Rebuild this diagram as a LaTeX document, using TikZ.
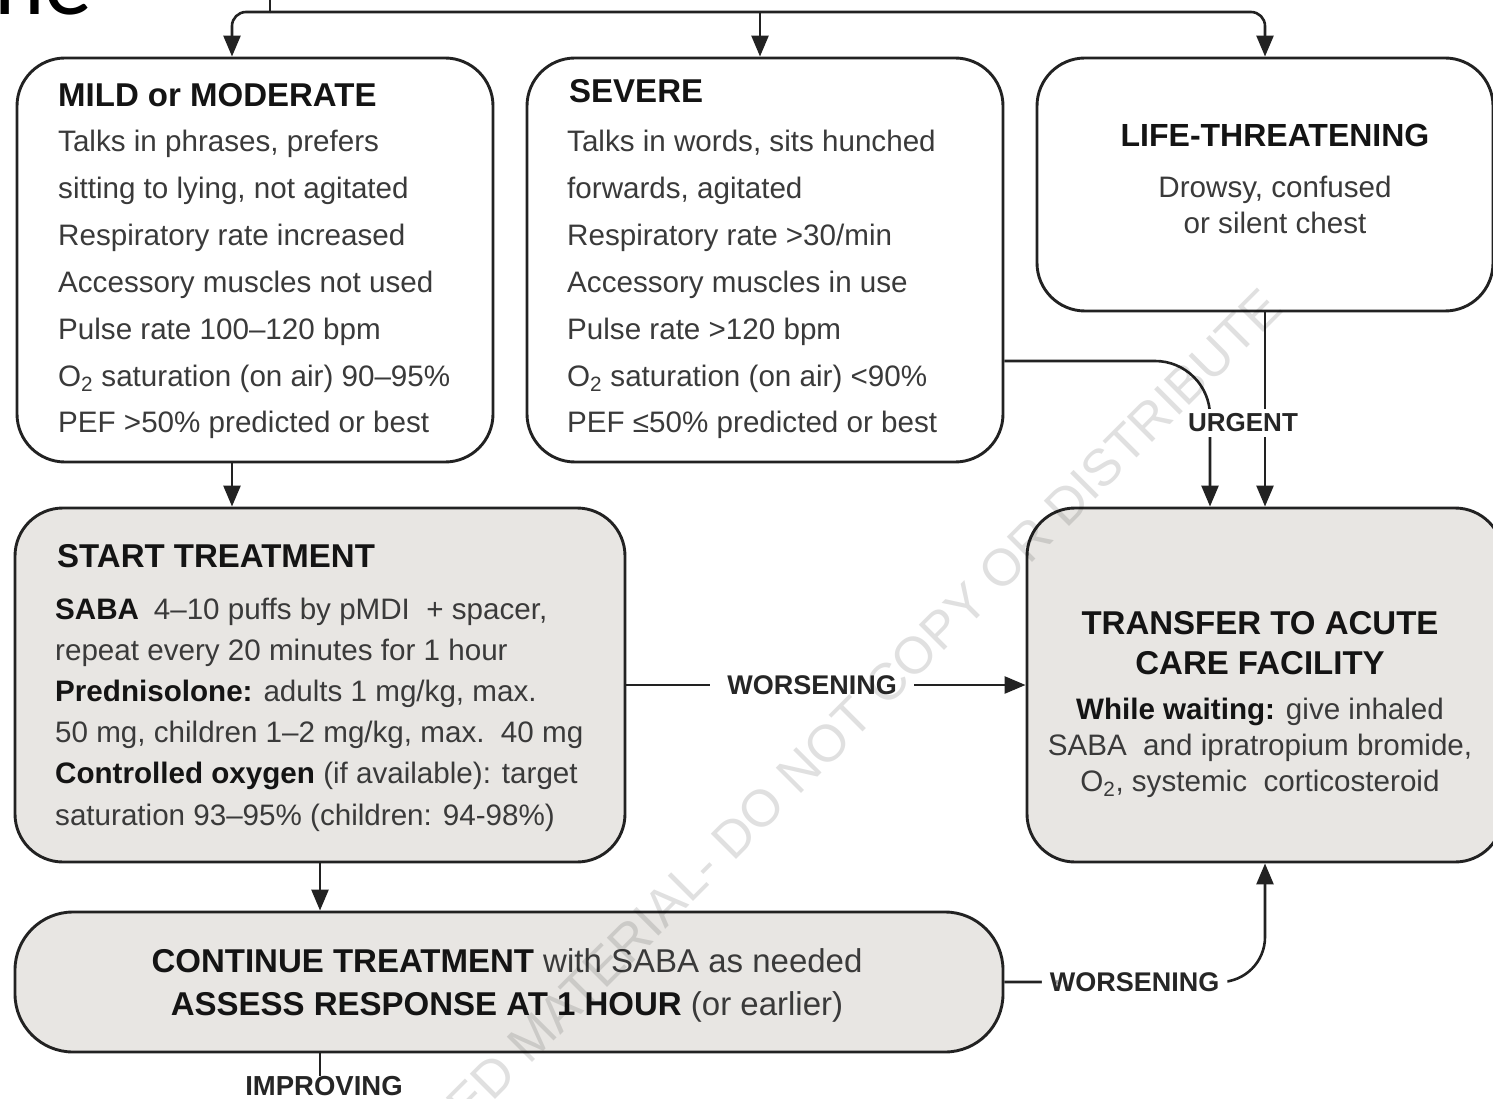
\documentclass[tikz,border=0pt]{standalone}
\usepackage{fontspec}
\setmainfont{Liberation Sans}
\newfontfamily\carlitofont{Carlito}
\usetikzlibrary{arrows.meta}
\definecolor{ink}{HTML}{222222}
\definecolor{bodytxt}{HTML}{3A3A3A}
\definecolor{boxfill}{HTML}{E8E6E3}
\newcommand\strongtxt[1]{{\color{black!92}\bfseries #1}}
\begin{document}
\begin{tikzpicture}[x=1pt,y=1pt,
  box/.style={draw=ink, line width=2.9pt, rounded corners=48pt, inner sep=0pt},
  whitebox/.style={box, fill=white},
  graybox/.style={box, fill=boxfill},
  body/.style={font=\fontsize{29.6}{36}\selectfont, text=bodytxt, inner sep=0pt},
  ttl/.style={font=\fontsize{33}{40}\selectfont\bfseries, text=black!92, inner sep=0pt},
  conttxt/.style={font=\fontsize{33}{40}\selectfont, text=bodytxt, inner sep=0pt},
  lbl/.style={font=\fontsize{27}{32}\selectfont\bfseries, text=black!85, fill=white, inner sep=0pt},
  conn/.style={draw=ink, line width=2.6pt},
  arr/.style={conn, -{Triangle[length=21pt,width=17pt]}},
]
\useasboundingbox (0,0) rectangle (1493,-1099);

% slide title fragment
\node[font=\carlitofont\fontsize{96}{100}\selectfont, anchor=base east, inner sep=0pt, text=black] (ne) at (93,-15) {ne};

% boxes
\node[whitebox, minimum width=476pt, minimum height=404pt] (mild) at (255,-260) {};
\node[whitebox, minimum width=476pt, minimum height=404pt] (severe) at (765,-260) {};
\node[whitebox, minimum width=456pt, minimum height=253pt] (life) at (1265,-184.5) {};
\node[graybox, minimum width=610pt, minimum height=354pt] (start) at (320,-685) {};
\node[graybox, minimum width=476pt, minimum height=354pt] (trans) at (1265,-685) {};
\node[graybox, minimum width=988pt, minimum height=140pt, rounded corners=58pt] (cont) at (509,-982) {};

% mild text
\node[ttl, anchor=base west] (mildT) at (58,-107) {MILD or MODERATE};
\foreach \t [count=\i] in {{Talks in phrases, prefers},{sitting to lying, not agitated},{Respiratory rate increased},{Accessory muscles not used},{Pulse rate 100--120 bpm},{O\textsubscript{2} saturation (on air) 90--95\%},{PEF >50\%\ predicted or best}}
  \node[body, anchor=base west] (mild\i) at (58,{-152-46.8*(\i-1)}) {\t};

% severe text
\node[ttl, anchor=base west] (sevT) at (569,-103) {SEVERE};
\foreach \t [count=\i] in {{Talks in words, sits hunched},{forwards, agitated},{Respiratory rate >30/min},{Accessory muscles in use},{Pulse rate >120 bpm},{O\textsubscript{2} saturation (on air) <90\%},{PEF ≤50\% predicted or best}}
  \node[body, anchor=base west] (sev\i) at (567,{-152-46.8*(\i-1)}) {\t};

% life-threatening text
\node[ttl, font=\fontsize{32}{40}\selectfont\bfseries, anchor=base] (lifeT) at (1275,-147) {LIFE-THREATENING};
\node[body, anchor=base] (life1) at (1275,-198) {Drowsy, confused};
\node[body, anchor=base] (life2) at (1275,-234) {or silent chest};

% start treatment text
\node[ttl, anchor=base west] (startT) at (57,-567) {START TREATMENT};
\foreach \t [count=\i] in {{\strongtxt{SABA}\enspace 4--10 puffs by pMDI\ \ + spacer,},{repeat every 20 minutes for 1 hour},{\strongtxt{Prednisolone:} adults 1 mg/kg, max.},{50 mg, children 1--2 mg/kg, max.\ \ 40 mg},{\strongtxt{Controlled oxygen} (if available): target},{saturation 93--95\% (children: 94-98\%)}}
  \node[body, anchor=base west] (start\i) at (55,{-619-41.2*(\i-1)}) {\t};

% transfer text
\node[ttl, anchor=base] (transT1) at (1260,-634) {TRANSFER TO ACUTE};
\node[ttl, anchor=base] (transT2) at (1260,-674) {CARE FACILITY};
\node[body, anchor=base] (trans1) at (1260,-719) {\strongtxt{While waiting:} give inhaled};
\node[body, anchor=base] (trans2) at (1260,-755) {SABA\ \ and ipratropium bromide,};
\node[body, anchor=base] (trans3) at (1260,-791) {O\textsubscript{2}, systemic\ \ corticosteroid};

% continue text
\node[conttxt, anchor=base] (cont1) at (507,-972) {\strongtxt{CONTINUE TREATMENT} with SABA as needed};
\node[conttxt, anchor=base] (cont2) at (507,-1015) {\strongtxt{ASSESS RESPONSE AT 1 HOUR} (or earlier)};

% connectors
\coordinate (topc) at (270,-12);
\coordinate (topin) at (270,2);
\coordinate (mildin) at ([xshift=-23pt]mild.north);
\coordinate (sevin) at ([xshift=-5pt]severe.north);
\draw[conn] (topin) -- (topc);
\draw[arr, rounded corners=14pt] (topc) -| (mildin);
\draw[arr, rounded corners=14pt] (topc) -| (life.north);
\draw[arr] (topc -| sevin) -- (sevin);

\coordinate (ms) at ([xshift=-23pt]mild.south);
\draw[arr] (ms) -- (ms |- start.north);
\draw[arr] (start.south) -- (start.south |- cont.north);
\draw[arr] (start.east) -- node[lbl, pos=0.465, inner xsep=17pt, inner ysep=2pt] (wors1) {WORSENING} (trans.west);

\coordinate (sevout) at ([yshift=-101pt]severe.east);
\coordinate (urgin) at ([xshift=-55pt]trans.north);
\draw[arr, rounded corners=55pt] (sevout) -| (urgin);
\draw[arr] (life.south) -- (life.south |- trans.north);
\node[lbl, font=\fontsize{26}{30}\selectfont\bfseries, inner xsep=2pt, inner ysep=5pt] (urgent) at (1243,-423) {URGENT};

\draw[arr, rounded corners=45pt] (cont.east) -| node[lbl, pos=0.25, inner xsep=8pt, inner ysep=2pt] (wors2) {WORSENING} (trans.south);

\node[lbl, font=\fontsize{27.5}{32}\selectfont\bfseries, fill=none] (improv) at (324,-1086) {IMPROVING};
\coordinate (imp) at ([xshift=-189pt]cont.south);
\draw[conn] (imp) -- (imp |- improv.north);

% watermark
\node[font=\fontsize{52}{60}\selectfont, rotate=45, text=black, text opacity=0.12, inner sep=0pt] (wm) at (772,-798) {RESTRICTED MATERIAL- DO NOT COPY OR DISTRIBUTE};
\end{tikzpicture}
\end{document}
